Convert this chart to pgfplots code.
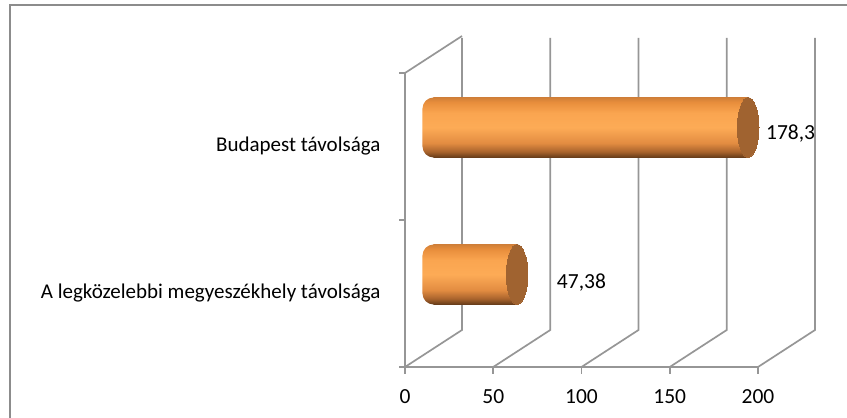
\documentclass[border=0pt]{standalone}
\usepackage{fontspec}
\setmainfont{Carlito}
\usepackage{pgfplots}
\pgfplotsset{compat=1.18}
\definecolor{gridc}{RGB}{150,150,150}
\definecolor{capc}{RGB}{160,99,48}
\definecolor{framec}{RGB}{140,140,140}
\definecolor{cb0}{RGB}{100,58,25}
\definecolor{cb1}{RGB}{170,100,45}
\definecolor{cb2}{RGB}{226,140,65}
\definecolor{cb3}{RGB}{253,171,86}
\definecolor{cb4}{RGB}{250,165,80}
\definecolor{cb5}{RGB}{232,142,60}
\definecolor{cb6}{RGB}{208,127,56}
\pgfdeclareverticalshading{cyl}{100bp}{color(0bp)=(cb0); color(25bp)=(cb0); color(30bp)=(cb1); color(37bp)=(cb2); color(50bp)=(cb3); color(62bp)=(cb4); color(71bp)=(cb5); color(75bp)=(cb6); color(100bp)=(cb6)}
\pgfplotsset{
  cylbody/.style={xbar, bar width=60pt, draw=none, yshift=19pt, shading=cyl},
  cylcap/.style={only marks, mark=*, mark size=30pt, xshift=28.5pt, yshift=19pt,
    draw=capc, fill=capc, mark options={xscale=0.36, draw=capc, fill=capc, line width=0pt}},
}
\begin{document}
\begin{tikzpicture}[x=1pt,y=1pt]
\useasboundingbox (0,0) rectangle (847,418);
\draw[framec, line width=2pt] (9.5,-5) -- (9.5,412.5) -- (860,412.5);
\begin{axis}[at={(405pt,51pt)}, anchor=south west, scale only axis,
  width=353pt, height=294pt, xmin=0, xmax=200, ymin=0, ymax=294, clip=false,
  axis line style={draw=none}, tick style={draw=none},
  xtick={0,50,100,150,200},
  ytick={73.5,220.5},
  yticklabels={A legközelebbi megyeszékhely távolsága, Budapest távolsága},
  yticklabel style={font=\fontsize{21}{25}\selectfont, xshift=-21pt},
  xticklabel style={font=\fontsize{21.5}{25}\selectfont, yshift=-19pt},
  /pgf/number format/assume math mode=true]
% 3D frame
\draw[gridc, line width=1.7pt] (axis cs:0,0) -- (axis cs:200,0);
\pgfplotsinvokeforeach{0,50,100,150,200}{
  \draw[gridc, line width=1.7pt] (axis cs:#1,0) -- ++(57pt,37pt) -- ++(0,292pt);
  \draw[gridc, line width=1.7pt] (axis cs:#1,0) -- ++(0,-7pt);
}
\draw[gridc, line width=1.7pt] (axis cs:0,0) -- (axis cs:0,294) -- ++(57pt,37pt);
\pgfplotsinvokeforeach{0,147,294}{
  \draw[gridc, line width=1.7pt] (axis cs:0,#1) -- ++(-6pt,0);
}
% Budapest
\addplot[cylbody, xshift=17.5pt, rounded corners=11pt] coordinates {(178.3,220.5)};
\addplot[cylbody, xshift=28.5pt] coordinates {(178.3,220.5)};
\addplot[cylcap] coordinates {(178.3,220.5)};
% Megyeszékhely
\addplot[cylbody, xshift=17.5pt, rounded corners=11pt] coordinates {(47.38,73.5)};
\addplot[cylbody, xshift=28.5pt] coordinates {(47.38,73.5)};
\addplot[cylcap] coordinates {(47.38,73.5)};
% value labels
\node[anchor=west, font=\fontsize{21.5}{25}\selectfont, inner sep=0pt] at (axis cs:204.5,233) {178,3};
\node[anchor=west, font=\fontsize{21.5}{25}\selectfont, inner sep=0pt] at (axis cs:86,84) {47,38};
\end{axis}
\end{tikzpicture}
\end{document}
